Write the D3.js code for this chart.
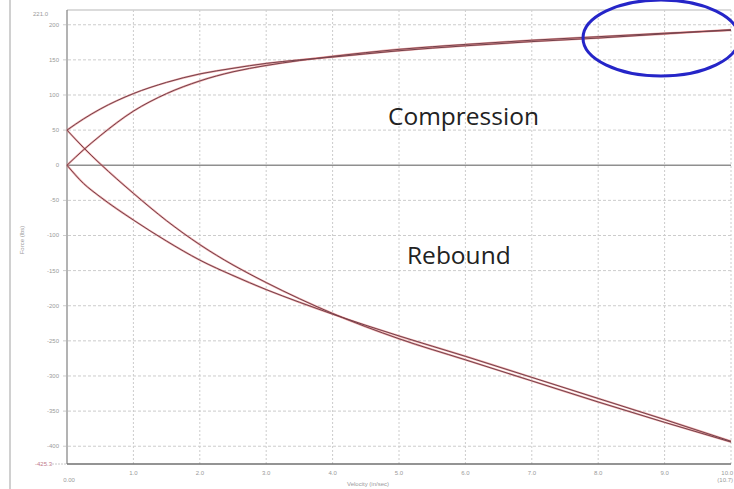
<!DOCTYPE html>
<html><head><meta charset="utf-8">
<script src="https://cdn.jsdelivr.net/npm/d3@7"></script>
<style>html,body{margin:0;padding:0;background:#fff;}svg{display:block;}</style>
</head><body>
<script>
const velocity = [0, 0.25, 0.5, 1, 1.5, 2, 2.5, 3, 3.5, 4, 5, 6, 7, 8, 9, 10];
const compressionA = [50, 66, 80, 102, 118, 130, 138, 145, 150, 154, 163, 170, 176, 181, 187, 193];
const compressionB = [0, 22, 42, 77, 102, 120, 133, 142, 149, 155, 165, 172, 178, 183, 188, 192];
const reboundA = [50, 25, 2, -40, -79, -113, -142, -167, -190, -211, -247, -277, -307, -337, -366, -394];
const reboundB = [0, -26, -45, -78, -108, -135, -157, -177, -195, -212, -243, -272, -302, -332, -362, -393];
const xTicks = [0, 1, 2, 3, 4, 5, 6, 7, 8, 9, 10];
const xTickLabels = ["0.00", "1.0", "2.0", "3.0", "4.0", "5.0", "6.0", "7.0", "8.0", "9.0", "10.0"];
const yTicks = [200, 150, 100, 50, 0, -50, -100, -150, -200, -250, -300, -350, -400];
const yMax = 221.0, yMin = -425.3;

const W = 734, H = 489;
const svg = d3.select("body").append("svg").attr("width", W).attr("height", H);
const x = d3.scaleLinear().domain([0, 10]).range([67, 731]);
const y = d3.scaleLinear().domain([yMin, yMax]).range([464, 10]);

// outer frame
svg.append("line").attr("x1", 10).attr("x2", 10).attr("y1", 0).attr("y2", H)
  .attr("stroke", "#d0d0d0").attr("stroke-width", 2);

// grid
const g = svg.append("g");
g.selectAll(".vg").data(xTicks.slice(1)).join("line")
  .attr("x1", d => x(d)).attr("x2", d => x(d)).attr("y1", y(yMax)).attr("y2", y(yMin))
  .attr("stroke", "#cccccc").attr("stroke-dasharray", "2,2").attr("stroke-width", 1);
g.selectAll(".hg").data(yTicks.filter(d => d !== 0)).join("line")
  .attr("x1", x(0) - 4).attr("x2", x(10)).attr("y1", d => y(d)).attr("y2", d => y(d))
  .attr("stroke", "#cccccc").attr("stroke-dasharray", "3,2").attr("stroke-width", 1);

// top border
svg.append("line").attr("x1", x(0)).attr("x2", x(10)).attr("y1", y(yMax)).attr("y2", y(yMax))
  .attr("stroke", "#cfcfcf").attr("stroke-width", 1.5);
// zero line
svg.append("line").attr("x1", x(0)).attr("x2", x(10)).attr("y1", y(0)).attr("y2", y(0))
  .attr("stroke", "#8f8f8f").attr("stroke-width", 1.5);
// axes
svg.append("line").attr("x1", x(0)).attr("x2", x(0)).attr("y1", y(yMax)).attr("y2", y(yMin))
  .attr("stroke", "#808080").attr("stroke-width", 1.2);
svg.append("line").attr("x1", x(0)).attr("x2", x(10)).attr("y1", y(yMin)).attr("y2", y(yMin))
  .attr("stroke", "#707070").attr("stroke-width", 1.5);

// tick labels
const lab = svg.append("g").attr("font-family", "Liberation Sans, sans-serif").attr("font-size", 6).attr("fill", "#9a9a9a");
lab.selectAll(".yl").data(yTicks).join("text")
  .attr("x", x(0) - 8).attr("y", d => y(d) + 2).attr("text-anchor", "end").text(d => d);
lab.append("text").attr("x", 48).attr("y", 16).attr("text-anchor", "end").text(yMax.toFixed(1));
lab.append("text").attr("x", 52).attr("y", y(yMin) + 2).attr("text-anchor", "end").attr("fill", "#c07a8a").text(yMin.toFixed(1));
svg.append("line").attr("x1", 52).attr("x2", x(0)).attr("y1", y(yMin)).attr("y2", y(yMin))
  .attr("stroke", "#c8c8c8").attr("stroke-dasharray", "2,1");
lab.selectAll(".xl").data(xTicks).join("text")
  .attr("x", d => d === 10 ? 733 : x(d) + (d === 0 ? 2 : 0)).attr("y", d => d === 0 ? 482 : 475)
  .attr("text-anchor", d => d === 10 ? "end" : "middle")
  .text((d, i) => xTickLabels[i]);
lab.append("text").attr("x", 733).attr("y", 482).attr("text-anchor", "end").text("(10.7)");
lab.append("text").attr("x", 347).attr("y", 486).text("Velocity (in/sec)");
lab.append("text").attr("transform", "translate(24,240) rotate(-90)").attr("text-anchor", "middle").text("Force (lbs)");

// curves
const line = d3.line().x((d, i) => x(velocity[i])).y(d => y(d)).curve(d3.curveMonotoneX);
const series = [compressionA, compressionB, reboundA, reboundB];
svg.append("g").selectAll("path.r").data(series).join("path")
  .attr("d", line).attr("fill", "none").attr("stroke", "#e06a6a").attr("stroke-width", 2).attr("opacity", 0.6);
svg.append("g").selectAll("path.d").data(series).join("path")
  .attr("d", line).attr("fill", "none").attr("stroke", "#74424c").attr("stroke-width", 1);

// annotations
const ann = svg.append("g").attr("font-family", "Open Sans, sans-serif").attr("font-size", 24.5).attr("fill", "#222");
ann.append("text").attr("x", 388).attr("y", 125).text("Compression");
ann.append("text").attr("x", 407).attr("y", 264).text("Rebound");

svg.append("ellipse").attr("cx", 661).attr("cy", 38).attr("rx", 78).attr("ry", 38)
  .attr("fill", "none").attr("stroke", "#2525c8").attr("stroke-width", 3);
</script>
</body></html>
